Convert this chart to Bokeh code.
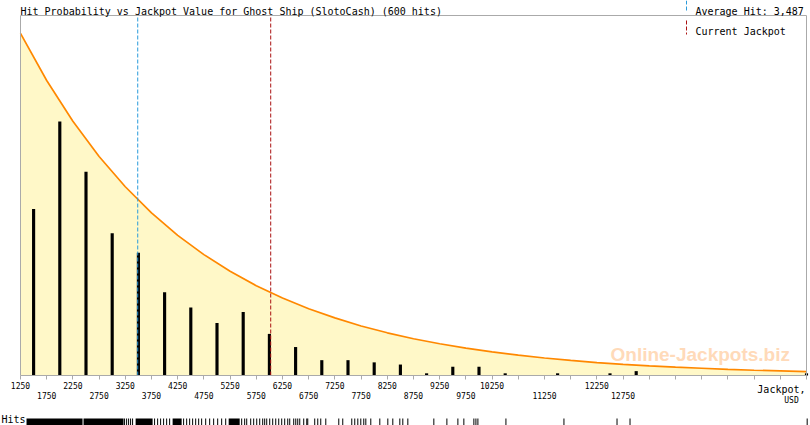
from bokeh.plotting import figure
from bokeh.models import Range1d, Label, FixedTicker, LinearAxis
from bokeh.embed import file_html
from bokeh.resources import INLINE

# ---------------- data ----------------
title_text = "Hit Probability vs Jackpot Value for Ghost Ship (SlotoCash) (600 hits)"
avg_hit = 3487
current_jackpot = 6025

bin_centers = [1500, 2000, 2500, 3000, 3500, 4000, 4500, 5000, 5500, 6000, 6500,
               7000, 7500, 8000, 8500, 9000, 9500, 10000, 10500, 11500, 12500, 13000, 16250]
bin_hits = [76, 116, 93, 65, 56, 38, 31, 24, 29, 19, 13,
            7, 7, 6, 5, 1, 4, 4, 1, 1, 1, 2, 1]

curve_x = [1250, 1750, 2250, 2750, 3250, 3750, 4250, 4750, 5250, 5750, 6250,
           6750, 7250, 7750, 8250, 8750, 9250, 9750, 10250, 10750, 11250,
           11750, 12250, 12750, 13250, 13750, 14250, 14750, 15250, 15750, 16250]
curve_y = [156.2, 134.7, 116.1, 100.0, 86.2, 74.3, 64.0, 55.2, 47.6, 41.0, 35.4,
           30.5, 26.3, 22.6, 19.5, 16.8, 14.5, 12.5, 10.8, 9.3, 8.0,
           6.9, 5.9, 5.1, 4.4, 3.8, 3.3, 2.8, 2.4, 2.1, 1.8]

tick_marks = curve_x
row1_labels = [1250, 2250, 3250, 4250, 5250, 6250, 7250, 8250, 9250, 10250, 12250]
row2_labels = [1750, 2750, 3750, 4750, 5750, 6750, 7750, 8750, 9750, 11250, 12750]

# rug: solid stretches (start, end) and single hits, USD
rug_dense_start = [1365, 2453, 3447, 4153, 5223]
rug_dense_end = [2434, 3217, 3771, 4325, 5433]
rug_hits = [3236, 3275, 3313, 3351, 3389, 3809, 3867, 3924, 3981, 4039, 4096,
            4363, 4421, 4478, 4535, 4593, 4650, 4707, 4784, 4860, 4936, 5013, 5089, 5166,
            5471, 5528, 5567, 5643, 5700, 5758, 5815, 5872, 5910, 5949, 6006, 6063,
            6121, 6178, 6235, 6292, 6350, 6388, 6464, 6503, 6541, 6579, 6655, 6713,
            6732, 6865, 6923, 6980, 7076, 7324, 7400, 7572, 7629, 7687, 7744, 7801,
            7840, 7935, 8107, 8260, 8355, 8489, 8546, 8642, 9138, 9387, 9597, 9711,
            9902, 9941, 9979, 10514, 11621, 12634, 12882, 16263]

# ---------------- layout / styling ----------------
MONO = "DejaVu Sans Mono"
GRAY = "#AAAAAA"
W, H = 810, 425
X_START, X_END = 1250, 16250      # plotted jackpot range
Y_TOP = 164.4                     # value at the top border of the plot box
PX_LEFT, PX_RIGHT = 20, 806       # plot box in page pixels
PX_TOP, PX_BASE = 15, 375

ux = (X_END - X_START) / (PX_RIGHT - PX_LEFT)   # USD per pixel
uy = Y_TOP / (PX_BASE - PX_TOP)                 # value per pixel


def xd(px):
    return X_START + (px - PX_LEFT) * ux


def yd(py):
    return (PX_BASE - py) * uy


p = figure(width=W, height=H, output_backend="svg", toolbar_location=None,
           x_range=Range1d(xd(0), xd(W)), y_range=Range1d(yd(H), yd(0)),
           min_border=0, min_border_left=0, min_border_right=0,
           min_border_top=0, min_border_bottom=0)
p.grid.visible = False
p.yaxis.visible = False
p.outline_line_color = None
p.background_fill_color = "white"
p.border_fill_color = "white"

# fill under curve and curve
p.varea(x=curve_x, y1=0, y2=curve_y, fill_color="#FFF8C8")
p.line(x=curve_x, y=curve_y, line_color="#FF8800", line_width=1.7)

# bars
p.vbar(x=bin_centers, top=bin_hits, width=60, fill_color="black", line_color=None)

# plot box (left, top, right)
p.segment(x0=[X_START, X_START, X_END], y0=[0, Y_TOP, 0],
          x1=[X_START, X_END, X_END], y1=[Y_TOP, Y_TOP, Y_TOP],
          line_color=GRAY, line_width=1)

# average hit and current jackpot lines
p.segment(x0=[avg_hit], y0=[0], x1=[avg_hit], y1=[Y_TOP],
          line_color="#2A9BDB", line_width=1, line_dash="4 2")
p.segment(x0=[current_jackpot], y0=[0], x1=[current_jackpot], y1=[Y_TOP],
          line_color="#AA1111", line_width=1, line_dash="4 2")

# legend markers
p.segment(x0=[xd(686)], y0=[yd(0)], x1=[xd(686)], y1=[yd(11)],
          line_color="#2A9BDB", line_width=1, line_dash="4 2")
p.segment(x0=[xd(686)], y0=[yd(20)], x1=[xd(686)], y1=[yd(34)],
          line_color="#AA1111", line_width=1, line_dash="4 2")

# x axis, first row of labels
ax = p.xaxis[0]
ax.fixed_location = 0
ax.bounds = (X_START, X_END)
ax.ticker = FixedTicker(ticks=tick_marks)
ax.major_label_overrides = {t: (str(t) if t in row1_labels else "") for t in tick_marks}
ax.axis_line_color = GRAY
ax.major_tick_line_color = GRAY
ax.major_tick_out = 4
ax.major_tick_in = 0
ax.minor_tick_line_color = None
ax.major_label_standoff = 2
ax.major_label_text_font = MONO
ax.major_label_text_font_size = "8px"
ax.major_label_text_color = "black"

# second row of labels
ax2 = LinearAxis(ticker=FixedTicker(ticks=row2_labels), fixed_location=0)
ax2.major_label_overrides = {t: str(t) for t in row2_labels}
ax2.axis_line_color = None
ax2.major_tick_line_color = None
ax2.major_tick_out = 0
ax2.major_tick_in = 0
ax2.minor_tick_line_color = None
ax2.major_label_standoff = 16
ax2.major_label_text_font = MONO
ax2.major_label_text_font_size = "8px"
ax2.major_label_text_color = "black"
p.add_layout(ax2, "below")

# rug of individual hits
p.quad(left=rug_dense_start, right=rug_dense_end, bottom=yd(H), top=yd(418),
       fill_color="black", line_color=None)
p.segment(x0=rug_hits, y0=yd(H), x1=rug_hits, y1=yd(418), line_color="black", line_width=1)


def text(x, y, s, size="10px", align="left", font=MONO, color="black", style="normal"):
    p.add_layout(Label(x=x, y=H - y, x_units="screen", y_units="screen", text=s,
                       text_font=font, text_font_size=size, text_color=color,
                       text_align=align, text_baseline="alphabetic",
                       text_font_style=style))


text(20, 11, title_text)
text(695, 11, f"Average Hit: {avg_hit:,}")
text(695, 31, "Current Jackpot")
text(805, 389, "Jackpot,", align="right")
text(791, 400, "USD", size="8px", align="center")
text(1, 419, "Hits")
text(610, 354, "Online-Jackpots.biz", size="19px", font="Liberation Sans",
     color="#FFDAB9", style="bold")

open("out.html", "w").write(file_html(p, INLINE))
